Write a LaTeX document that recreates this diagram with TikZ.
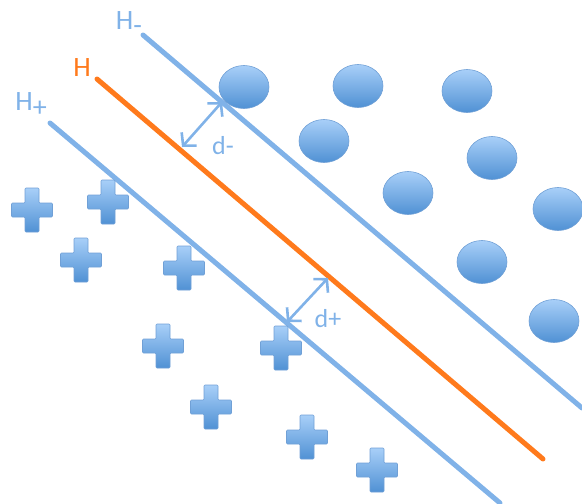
\documentclass[tikz,border=0pt]{standalone}
\usepackage{fontspec}
\setmainfont{Carlito}
\usetikzlibrary{arrows.meta,shapes.geometric}

\definecolor{lineblue}{RGB}{128,178,232}
\definecolor{hyporange}{RGB}{255,122,28}
\definecolor{blobtop}{RGB}{168,207,248}
\definecolor{blobbot}{RGB}{80,145,212}
\definecolor{blobedge}{RGB}{112,160,214}

\tikzset{
  margin/.style={lineblue, line width=5pt, line cap=round},
  hyper/.style={hyporange, line width=5pt, line cap=round},
  gap/.style={lineblue, line width=2.6pt, {Straight Barb[length=9pt,width=20pt]}-{Straight Barb[length=9pt,width=20pt]}},
  blob/.style={ellipse, minimum width=50pt, minimum height=43pt, inner sep=0pt,
               draw=blobedge, line width=0.6pt, top color=blobtop, bottom color=blobbot},
  crossbox/.style={draw=blobedge, line width=0.6pt, rounded corners=1pt,
                   top color=blobtop, bottom color=blobbot},
  lbl/.style={font=\fontsize{28}{32}\selectfont, inner sep=0pt},
  dlbl/.style={font=\fontsize{26}{30}\selectfont, inner sep=0pt, lineblue}
}

\begin{document}
\begin{tikzpicture}[x=1pt, y=-1pt]
  \useasboundingbox (0,0) rectangle (582,504);

  % hyperplanes
  \coordinate (Hm-s) at (143,35);  \coordinate (Hm-e) at (582,408);
  \coordinate (H-s)  at (97,79);   \coordinate (H-e)  at (543,459);
  \coordinate (Hp-s) at (50,123);  \coordinate (Hp-e) at (500,503);
  \draw[margin] (Hm-s) -- (Hm-e);
  \draw[hyper]  (H-s) -- (H-e);
  \draw[margin] (Hp-s) -- (Hp-e);

  \node[lbl, lineblue]  (lbl-hm) at (129,23)  {H\raisebox{-0.35ex}{-}};
  \node[lbl, hyporange] (lbl-h)  at (82,68)   {H};
  \node[lbl, lineblue]  (lbl-hp) at (31,105)  {H\raisebox{-0.45ex}{+}};

  % negative class
  \foreach \x/\y [count=\i] in {244/87, 358/86, 467/91, 324/141, 492/158,
                               408/193, 558/209, 482/262, 554/321}
    \node[blob] (c\i) at (\x,\y) {};

  % positive class
  \foreach \x/\y in {32/210, 108/202, 81/260, 184/268, 163/346,
                     281/348, 211/407, 307/437, 377/470}
    \path[crossbox, shift={(\x,\y)}]
      (-7,-22) -- (7,-22) -- (7,-7) -- (20.5,-7) -- (20.5,7)
      -- (7,7) -- (7,22) -- (-7,22) -- (-7,7) -- (-20.5,7)
      -- (-20.5,-7) -- (-7,-7) -- cycle;

  % margins
  \coordinate (dm-a) at (182,147); \coordinate (dm-b) at (222,102);
  \coordinate (dp-a) at (287,322); \coordinate (dp-b) at (328,278);
  \draw[gap] (dm-a) -- (dm-b);
  \draw[gap] (dp-a) -- (dp-b);
  \node[dlbl] (lbl-dm) at (223,146) {d-};
  \node[dlbl] (lbl-dp) at (328,319) {d+};
\end{tikzpicture}
\end{document}
